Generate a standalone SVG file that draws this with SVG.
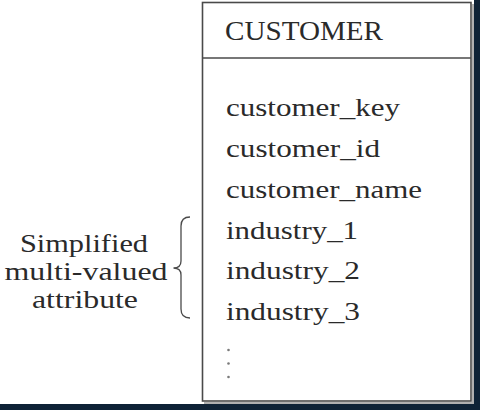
<svg xmlns="http://www.w3.org/2000/svg" width="480" height="410" viewBox="0 0 480 410">
<style>
.t{font-family:"Liberation Serif","Times New Roman",serif;fill:#2a2a2a;}
.b{font-size:25px;}
.h{font-size:27px;}
.ln{fill:none;stroke:#4a4a4a;stroke-width:1.6;}
.sh{fill:none;stroke:#b0b0b0;stroke-width:2;}
</style>
<rect x="0" y="0" width="480" height="410" fill="#ffffff"/>
<rect x="474" y="0" width="6" height="410" fill="#0e2236"/>
<rect x="0" y="404" width="480" height="6" fill="#0e2236"/>
<g id="customer">
<polyline class="sh" points="473,4 473,403 204,403"/>
<rect class="ln" x="202.5" y="2.5" width="268.5" height="398.5"/>
<line class="ln" x1="202.5" y1="58" x2="471" y2="58"/>
<text class="t h" x="225" y="40" textLength="158" lengthAdjust="spacingAndGlyphs">CUSTOMER</text>
<text class="t b" x="226" y="116" textLength="174" lengthAdjust="spacingAndGlyphs">customer_key</text>
<text class="t b" x="226" y="157" textLength="154" lengthAdjust="spacingAndGlyphs">customer_id</text>
<text class="t b" x="226" y="197.5" textLength="196" lengthAdjust="spacingAndGlyphs">customer_name</text>
<text class="t b" x="226" y="238.5" textLength="132" lengthAdjust="spacingAndGlyphs">industry_1</text>
<text class="t b" x="226" y="279" textLength="134" lengthAdjust="spacingAndGlyphs">industry_2</text>
<text class="t b" x="226" y="320" textLength="134" lengthAdjust="spacingAndGlyphs">industry_3</text>
<g fill="#7a7a7a">
<circle cx="228.5" cy="350" r="1.3"/>
<circle cx="228.5" cy="363.5" r="1.3"/>
<circle cx="228.5" cy="377" r="1.3"/>
</g>
</g>
<g id="connectors">
<path class="ln" d="M190,217 Q181,217 181,226 L181,261 Q181,268 173.5,268 Q181,268 181,275 L181,309 Q181,318 190,318" style="stroke-width:1.3"/>
</g>
<g id="label">
<text class="t b" x="84" y="252" text-anchor="middle" textLength="128" lengthAdjust="spacingAndGlyphs">Simplified</text>
<text class="t b" x="86" y="280" text-anchor="middle" textLength="163" lengthAdjust="spacingAndGlyphs">multi-valued</text>
<text class="t b" x="85" y="308" text-anchor="middle" textLength="106" lengthAdjust="spacingAndGlyphs">attribute</text>
</g>
</svg>
